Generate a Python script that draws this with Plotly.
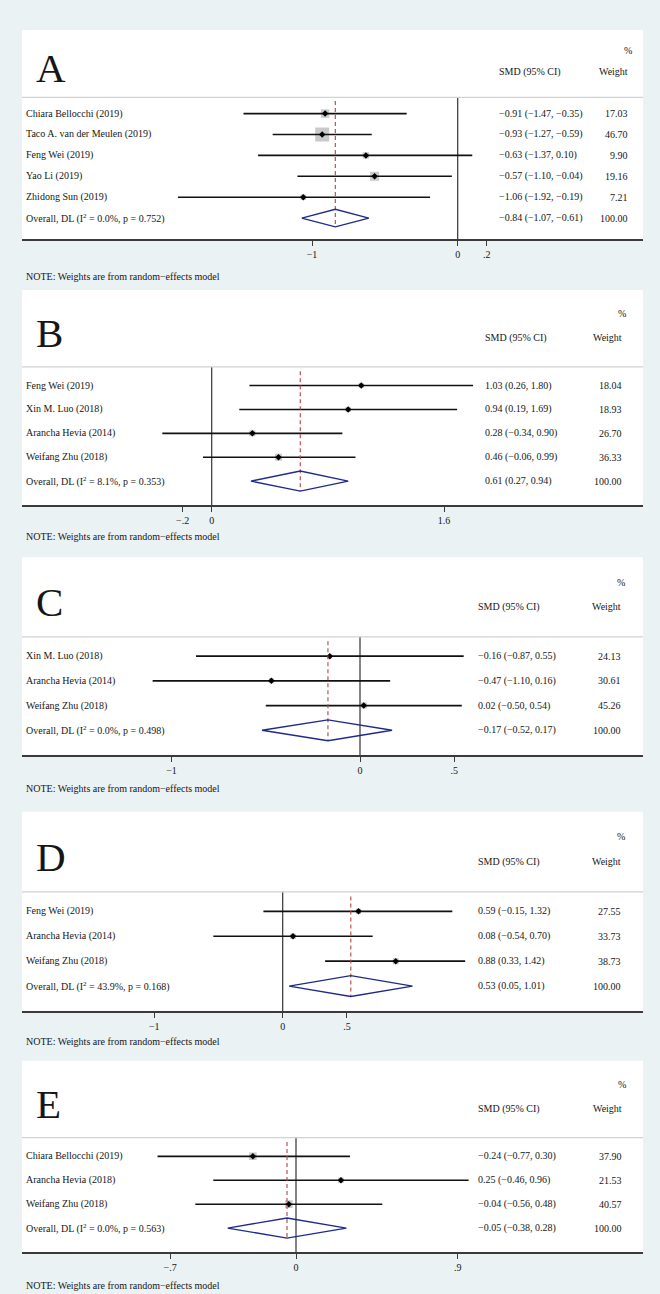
import plotly.graph_objects as go

W, H = 660, 1294

# ---------------- data ----------------
panel_letters = ["A", "B", "C", "D", "E"]

studies_A = ["Chiara Bellocchi (2019)", "Taco A. van der Meulen (2019)", "Feng Wei (2019)",
             "Yao Li (2019)", "Zhidong Sun (2019)"]
smd_A = [-0.91, -0.93, -0.63, -0.57, -1.06]
lo_A = [-1.47, -1.27, -1.37, -1.10, -1.92]
hi_A = [-0.35, -0.59, 0.10, -0.04, -0.19]
weight_A = [17.03, 46.70, 9.90, 19.16, 7.21]
overall_A = [-0.84, -1.07, -0.61]
het_A = [0.0, 0.752]
tickvals_A = [-1, 0, 0.2]
ticktext_A = ["−1", "0", ".2"]

studies_B = ["Feng Wei (2019)", "Xin M. Luo (2018)", "Arancha Hevia (2014)", "Weifang Zhu (2018)"]
smd_B = [1.03, 0.94, 0.28, 0.46]
lo_B = [0.26, 0.19, -0.34, -0.06]
hi_B = [1.80, 1.69, 0.90, 0.99]
weight_B = [18.04, 18.93, 26.70, 36.33]
overall_B = [0.61, 0.27, 0.94]
het_B = [8.1, 0.353]
tickvals_B = [-0.2, 0, 1.6]
ticktext_B = ["−.2", "0", "1.6"]

studies_C = ["Xin M. Luo (2018)", "Arancha Hevia (2014)", "Weifang Zhu (2018)"]
smd_C = [-0.16, -0.47, 0.02]
lo_C = [-0.87, -1.10, -0.50]
hi_C = [0.55, 0.16, 0.54]
weight_C = [24.13, 30.61, 45.26]
overall_C = [-0.17, -0.52, 0.17]
het_C = [0.0, 0.498]
tickvals_C = [-1, 0, 0.5]
ticktext_C = ["−1", "0", ".5"]

studies_D = ["Feng Wei (2019)", "Arancha Hevia (2014)", "Weifang Zhu (2018)"]
smd_D = [0.59, 0.08, 0.88]
lo_D = [-0.15, -0.54, 0.33]
hi_D = [1.32, 0.70, 1.42]
weight_D = [27.55, 33.73, 38.73]
overall_D = [0.53, 0.05, 1.01]
het_D = [43.9, 0.168]
tickvals_D = [-1, 0, 0.5]
ticktext_D = ["−1", "0", ".5"]

studies_E = ["Chiara Bellocchi (2019)", "Arancha Hevia (2018)", "Weifang Zhu (2018)"]
smd_E = [-0.24, 0.25, -0.04]
lo_E = [-0.77, -0.46, -0.56]
hi_E = [0.30, 0.96, 0.48]
weight_E = [37.90, 21.53, 40.57]
overall_E = [-0.05, -0.38, 0.28]
het_E = [0.0, 0.563]
tickvals_E = [-0.7, 0, 0.9]
ticktext_E = ["−.7", "0", ".9"]

note_text = "NOTE: Weights are from random−effects model"

# ---------------- layout constants (pixels) ----------------
panel_top_px = [30, 290, 557.3, 811.7, 1060.7]
panel_bottom_px = [239, 505, 755, 1011, 1252]
panel_left_px, panel_right_px = 22, 643
zero_px = [457.7, 211.7, 360.0, 282.7, 296.0]
px_per_unit = [145.7, 145.2, 188.5, 128.5, 179.8]
smd_col_px = [496.7, 483.3, 476.0, 476.0, 476.0]
weight_right_px = [630.0, 624.3, 623.3, 623.3, 624.0]
note_px = [277, 536.7, 788.3, 1041.7, 1285]
box_scale = [2.05, 1.16, 0.9, 0.97, 1.22]

FONT = "Liberation Serif"
TXT = "#161616"
BG = "#EAF2F3"
GRAY_BOX = "#b3b3b3"
NAVY = "#1f2a8a"
RED = "#b5443f"


def px_x(px):
    return px / W


def px_y(py):
    return 1 - py / H


def minus(s):
    return s.replace("-", "−")


panels = [
    (studies_A, smd_A, lo_A, hi_A, weight_A, overall_A, het_A, tickvals_A, ticktext_A),
    (studies_B, smd_B, lo_B, hi_B, weight_B, overall_B, het_B, tickvals_B, ticktext_B),
    (studies_C, smd_C, lo_C, hi_C, weight_C, overall_C, het_C, tickvals_C, ticktext_C),
    (studies_D, smd_D, lo_D, hi_D, weight_D, overall_D, het_D, tickvals_D, ticktext_D),
    (studies_E, smd_E, lo_E, hi_E, weight_E, overall_E, het_E, tickvals_E, ticktext_E),
]

fig = go.Figure()
annotations = []
shapes = []
layout_axes = {}

for p, (studies, smd, lo, hi, wt, ov, het, tv, tt) in enumerate(panels):
    sfx = "" if p == 0 else str(p + 1)
    xa, ya = "x" + sfx, "y" + sfx
    n_rows = len(studies) + 1
    rows = list(range(len(studies)))
    ov_row = len(studies)

    xr = [(panel_left_px - zero_px[p]) / px_per_unit[p], (panel_right_px - zero_px[p]) / px_per_unit[p]]
    layout_axes["xaxis" + sfx] = dict(
        domain=[px_x(panel_left_px), px_x(panel_right_px)],
        range=xr, anchor=ya, showgrid=False, zeroline=False,
        showline=True, linecolor="#3a3a3a", linewidth=1.6,
        ticks="outside", ticklen=5, tickwidth=1, tickcolor="#3a3a3a",
        tickvals=tv, ticktext=tt,
        tickfont=dict(family=FONT, size=10, color=TXT), fixedrange=True,
    )
    layout_axes["yaxis" + sfx] = dict(
        domain=[px_y(panel_bottom_px[p]), px_y(panel_top_px[p])],
        range=[n_rows, -4], anchor=xa, visible=False, showgrid=False, zeroline=False,
        fixedrange=True,
    )

    shapes.append(dict(type="line", xref=xa + " domain", yref=ya, x0=0, x1=1, y0=-0.78, y1=-0.78,
                       line=dict(color="#d2d2d2", width=1.2)))

    fig.add_trace(go.Scatter(x=[0, 0], y=[-0.78, n_rows], mode="lines", xaxis=xa, yaxis=ya,
                             line=dict(color="#333333", width=1.2), hoverinfo="skip"))

    fig.add_trace(go.Scatter(x=smd, y=rows, mode="markers", xaxis=xa, yaxis=ya,
                             marker=dict(symbol="square", color=GRAY_BOX,
                                         size=[box_scale[p] * w ** 0.5 for w in wt],
                                         line=dict(width=0)), hoverinfo="skip"))
    cx, cy = [], []
    for i in rows:
        cx += [lo[i], hi[i], None]
        cy += [i, i, None]
    fig.add_trace(go.Scatter(x=cx, y=cy, mode="lines", xaxis=xa, yaxis=ya,
                             line=dict(color="#111111", width=1.6), hoverinfo="skip"))
    fig.add_trace(go.Scatter(x=smd, y=rows, mode="markers", xaxis=xa, yaxis=ya,
                             marker=dict(symbol="diamond", color="#000000", size=5),
                             hoverinfo="skip"))

    h = 0.42
    fig.add_trace(go.Scatter(x=[ov[0], ov[0]], y=[-0.6, ov_row + h], mode="lines", xaxis=xa, yaxis=ya,
                             line=dict(color=RED, width=1.1, dash="4px,3px"), hoverinfo="skip"))
    fig.add_trace(go.Scatter(x=[ov[1], ov[0], ov[2], ov[0], ov[1]],
                             y=[ov_row, ov_row - h, ov_row, ov_row + h, ov_row],
                             mode="lines", xaxis=xa, yaxis=ya,
                             line=dict(color=NAVY, width=1.4), hoverinfo="skip"))

    def ann(text, x_px, y, anchor, size=10, yref=ya):
        annotations.append(dict(text=text, x=px_x(x_px), xref="paper", y=y, yref=yref,
                                xanchor=anchor, yanchor="middle", showarrow=False,
                                font=dict(family=FONT, size=size, color=TXT)))

    ann(panel_letters[p], 34, -2.2, "left", size=41)
    ann("%", weight_right_px[p] + 4, -3, "right")
    ann("SMD (95% CI)", smd_col_px[p], -2, "left")
    ann("Weight", weight_right_px[p], -2, "right")

    labels = studies + [f"Overall, DL (I<sup>2</sup> = {het[0]:.1f}%, p = {het[1]:.3f})"]
    ests = [(smd[i], lo[i], hi[i]) for i in rows] + [tuple(ov)]
    weights = wt + [100.0]
    for r in range(n_rows):
        ann(labels[r], 24, r, "left")
        e = ests[r]
        ann(minus(f"{e[0]:.2f} ({e[1]:.2f}, {e[2]:.2f})"), smd_col_px[p], r, "left")
        ann(f"{weights[r]:.2f}", weight_right_px[p], r, "right")

    annotations.append(dict(text=note_text, x=px_x(24), xref="paper", y=px_y(note_px[p]), yref="paper",
                            xanchor="left", yanchor="middle", showarrow=False,
                            font=dict(family=FONT, size=10, color=TXT)))

fig.update_layout(
    width=W, height=H, autosize=False,
    margin=dict(l=0, r=0, t=0, b=0),
    paper_bgcolor=BG, plot_bgcolor="white",
    showlegend=False,
    annotations=annotations, shapes=shapes,
    **layout_axes,
)

fig.write_html("out.html", config={"displayModeBar": False},
               post_script="document.body.style.margin='0';document.body.style.padding='0';"
                           "document.body.style.overflow='hidden';")
